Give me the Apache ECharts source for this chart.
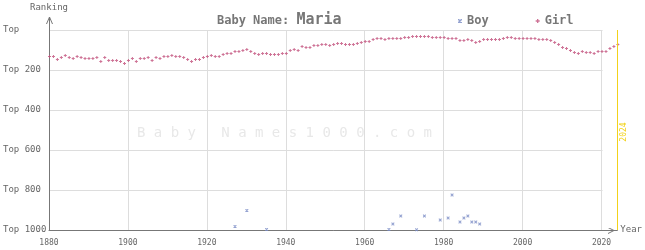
<!DOCTYPE html>
<html><head><meta charset="utf-8">
<script src="https://cdn.jsdelivr.net/npm/echarts@6/dist/echarts.min.js"></script>
<style>html,body{margin:0;padding:0;background:#fff}#c{width:645px;height:250px}</style>
</head><body><div id="c"></div>
<script>
const girlYears = [
1880,1881,1882,1883,1884,1885,1886,1887,1888,1889,1890,1891,1892,1893,1894,1895,1896,1897,1898,1899,
1900,1901,1902,1903,1904,1905,1906,1907,1908,1909,1910,1911,1912,1913,1914,1915,1916,1917,1918,1919,
1920,1921,1922,1923,1924,1925,1926,1927,1928,1929,1930,1931,1932,1933,1934,1935,1936,1937,1938,1939,
1940,1941,1942,1943,1944,1945,1946,1947,1948,1949,1950,1951,1952,1953,1954,1955,1956,1957,1958,1959,
1960,1961,1962,1963,1964,1965,1966,1967,1968,1969,1970,1971,1972,1973,1974,1975,1976,1977,1978,1979,
1980,1981,1982,1983,1984,1985,1986,1987,1988,1989,1990,1991,1992,1993,1994,1995,1996,1997,1998,1999,
2000,2001,2002,2003,2004,2005,2006,2007,2008,2009,2010,2011,2012,2013,2014,2015,2016,2017,2018,2019,
2020,2021,2022,2023,2024];
const girlRanks = [
132,132,148,137,127,137,142,132,137,142,142,142,137,157,137,152,152,152,157,167,
152,142,157,142,142,137,152,137,142,132,132,127,132,132,137,147,157,147,147,137,
132,127,132,132,122,117,117,107,107,102,97,107,117,122,117,117,122,122,122,117,
117,102,97,102,82,87,87,77,77,72,72,77,72,67,67,72,72,72,67,62,
57,57,47,42,42,47,42,42,42,42,37,37,32,32,32,32,32,37,37,37,
37,42,42,42,52,52,47,52,62,57,47,47,47,47,47,42,37,37,42,42,
42,42,42,42,47,47,47,52,62,72,87,92,102,112,117,107,112,112,117,107,
107,107,92,82,72];
const boyYears = [1927,1930,1935,1966,1967,1969,1973,1975,1979,1981,1982,1984,1985,1986,1987,1988,1989];
const boyRanks = [982,902,997,997,970,930,999,930,950,940,825,960,940,930,960,960,970];
const currentYear = 2024;
const lastGridYear = 2020;
const rankMin = 0, rankMax = 1000;

const FONT = 'DejaVu Sans Mono';
const plusPath = 'path://M0,1H3V2H0Z M1,0H2V3H1Z';
const crossPath = 'path://M0,0L0.8,0L3,2.2L3,3L2.2,3L0,0.8Z M2.2,0L3,0L3,0.8L0.8,3L0,3L0,2.2Z';
const YELLOW = '#f2d21a';

const chart = echarts.init(document.getElementById('c'), null, {renderer:'canvas'});
const option = {
  animation: false,
  backgroundColor: '#fff',
  grid: {left: 47, right: 22, top: 30, bottom: 20},
  title: {
    text: '{a|Baby Name: }{b|Maria}', left: 212, top: 8,
    textStyle: {rich: {
      a: {fontFamily: FONT, fontSize: 12, fontWeight: 'bold', color: '#777'},
      b: {fontFamily: FONT, fontSize: 15, color: '#777'}
    }}
  },
  legend: {
    left: 453, top: 10, itemWidth: 4, itemHeight: 4, itemGap: 47,
    textStyle: {fontFamily: FONT, fontSize: 12, fontWeight: 'bold', color: '#777'},
    data: [{name: 'Boy', icon: crossPath}, {name: 'Girl', icon: plusPath}]
  },
  xAxis: {
    type: 'value', min: 1880, max: currentYear, interval: 20,
    name: 'Year', nameLocation: 'end', nameGap: 3,
    nameTextStyle: {fontFamily: FONT, fontSize: 9, color: '#666', align: 'left', verticalAlign: 'middle'},
    axisLine: {onZero: false, lineStyle: {color: '#777'}},
    axisTick: {show: false},
    axisLabel: {fontFamily: FONT, fontSize: 8, color: '#666', margin: 9, showMaxLabel: false,
      formatter: v => String(v)},
    splitLine: {show: true, lineStyle: {color: '#ddd', width: 1}}
  },
  yAxis: {
    type: 'value', min: rankMin, max: rankMax, interval: 200, inverse: true,
    name: 'Ranking', nameLocation: 'start', nameGap: 18,
    nameTextStyle: {fontFamily: FONT, fontSize: 9, color: '#666', align: 'center'},
    axisLine: {show: true, onZero: false, lineStyle: {color: '#777'}},
    axisTick: {show: false},
    axisLabel: {fontFamily: FONT, fontSize: 9, color: '#666', align: 'left', margin: 46,
      formatter: v => v === 0 ? 'Top' : 'Top ' + v},
    splitLine: {show: true, lineStyle: {color: '#ddd', width: 1}}
  },
  series: [
    {
      type: 'scatter', name: 'helper', z: 1, silent: true, data: [],
      markArea: {silent: true, itemStyle: {color: '#fff'},
        data: [[{xAxis: lastGridYear + 0.25, yAxis: rankMin}, {xAxis: currentYear, yAxis: 990}]]},
      markLine: {silent: true, symbol: 'none',
        lineStyle: {color: YELLOW, type: 'solid', width: 1},
        label: {show: false},
        data: [[{coord: [currentYear, rankMax]}, {coord: [currentYear, rankMin]}]]}
    },
    {
      type: 'scatter', name: 'Boy', z: 3, symbol: crossPath, symbolSize: 3, symbolOffset: [0.5, 0],
      itemStyle: {color: '#7b8cc6'},
      data: boyYears.map((y, i) => [y, boyRanks[i]])
    },
    {
      type: 'scatter', name: 'Girl', z: 3, symbol: plusPath, symbolSize: 3, symbolOffset: [0.5, 0],
      itemStyle: {color: '#c2507c'},
      data: girlYears.map((y, i) => [y, girlRanks[i]])
    }
  ]
};
chart.setOption(option);

const pO = chart.convertToPixel({gridIndex: 0}, [1880, rankMin]);
const pE = chart.convertToPixel({gridIndex: 0}, [currentYear, rankMax]);
const axX = Math.round(pO[0]) + 0.5, gTop = Math.round(pO[1]), axY = Math.round(pE[1]) + 0.5, gRight = Math.round(pE[0]);
const midY = (pO[1] + pE[1]) / 2;
chart.setOption({
  graphic: [
    {type: 'polyline', shape: {points: [[axX, gTop], [axX, gTop - 13]]}, style: {stroke: '#777', lineWidth: 1, fill: null}},
    {type: 'polyline', shape: {points: [[axX - 3, gTop - 6], [axX, gTop - 13], [axX + 3, gTop - 6]]}, style: {stroke: '#777', lineWidth: 1, fill: null}},
    {type: 'polyline', shape: {points: [[gRight - 9, axY - 3], [gRight - 3, axY], [gRight - 9, axY + 3]]}, style: {stroke: '#777', lineWidth: 1, fill: null}},
    {type: 'text', x: gRight + 7, y: midY + 2, rotation: Math.PI / 2, silent: true, z: 5,
      style: {text: String(currentYear), fontFamily: FONT, fontSize: 8, fill: YELLOW, align: 'center', verticalAlign: 'middle'}},
    {type: 'text', left: 137, top: 126, silent: true, z: 0,
      style: {text: 'B a b y   N a m e s 1 0 0 0 . c o m', fontFamily: FONT, fontSize: 14, fill: '#e8e8e8'}}
  ]
});
</script></body></html>
